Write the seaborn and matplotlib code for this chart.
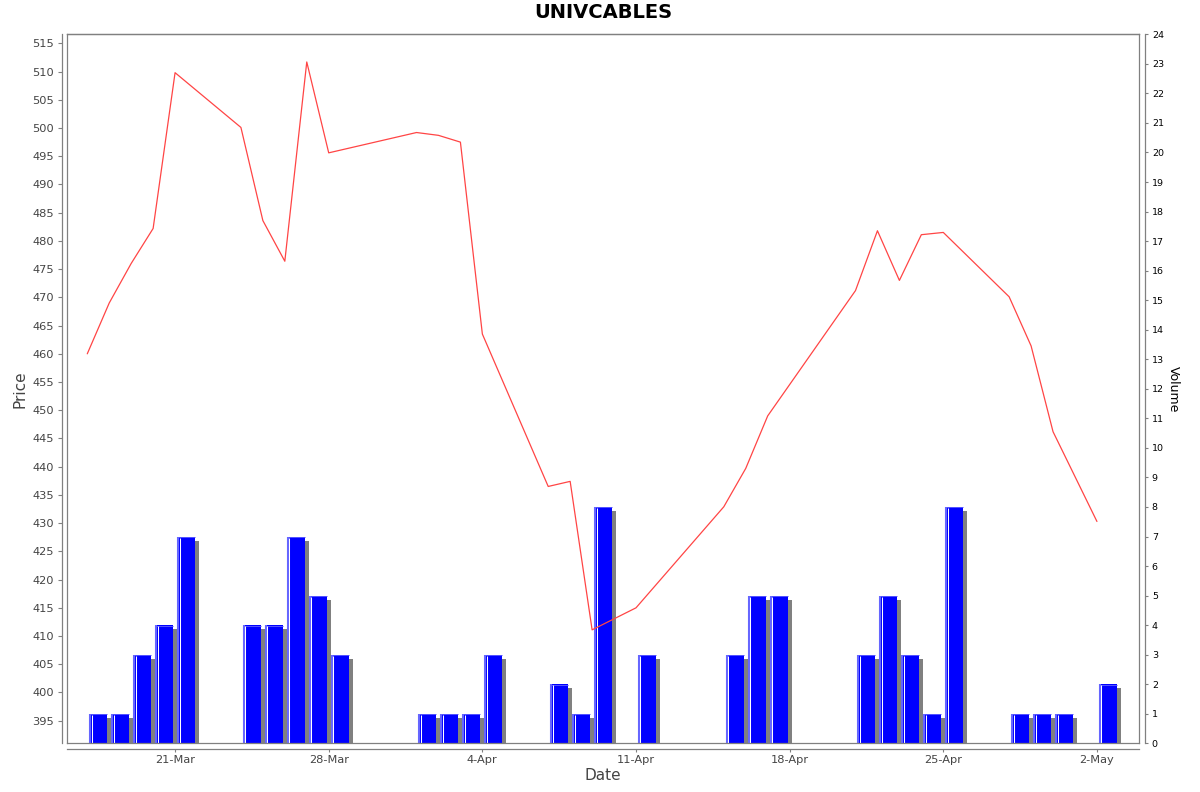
import numpy as np
import pandas as pd
import matplotlib
matplotlib.use('Agg')
import matplotlib.pyplot as plt
import matplotlib.dates as mdates
import seaborn as sns

# Chart data
title = 'UNIVCABLES'
dates = ['2025-03-17', '2025-03-18', '2025-03-19', '2025-03-20', '2025-03-21',
         '2025-03-24', '2025-03-25', '2025-03-26', '2025-03-27', '2025-03-28',
         '2025-04-01', '2025-04-02', '2025-04-03', '2025-04-04',
         '2025-04-07', '2025-04-08', '2025-04-09', '2025-04-11',
         '2025-04-15', '2025-04-16', '2025-04-17',
         '2025-04-21', '2025-04-22', '2025-04-23', '2025-04-24', '2025-04-25',
         '2025-04-28', '2025-04-29', '2025-04-30', '2025-05-02']
prices = [460.0, 469.0, 476.0, 482.2, 509.8,
          500.1, 483.6, 476.4, 511.7, 495.6,
          499.2, 498.7, 497.5, 463.5,
          436.5, 437.4, 411.1, 415.0,
          432.9, 439.7, 449.0,
          471.2, 481.8, 473.0, 481.1, 481.5,
          470.1, 461.4, 446.2, 430.3]
volumes = [1, 1, 3, 4, 7,
           4, 4, 7, 5, 3,
           1, 1, 1, 3,
           2, 1, 8, 3,
           3, 5, 5,
           3, 5, 3, 1, 8,
           1, 1, 1, 2]
price_ticks = list(range(395, 516, 5))
volume_ticks = list(range(0, 25))

df = pd.DataFrame({'date': pd.to_datetime(dates), 'price': prices, 'volume': volumes})
df['x'] = mdates.date2num(df['date'])

sns.set_style('white')
plt.rcParams['font.family'] = ['DejaVu Sans']

W, H = 1200, 792
fig = plt.figure(figsize=(W / 100, H / 100), dpi=100)
left, right, top, bottom = 67.3, 1139.3, 34.3, 743.3
pos = [left / W, 1 - bottom / H, (right - left) / W, (bottom - top) / H]
ax_vol = fig.add_axes(pos)
ax_price = fig.add_axes(pos, sharex=ax_vol)
ax_price.patch.set_visible(False)

# pixel sizes in data units, for the bar shadow and highlight
day_px = 1 / 21.95
vol_px = 24 / (bottom - top)
bar_w = 0.82
bar_left = df['x'] + 0.5 - bar_w / 2

# volume bars with a drop shadow
ax_vol.bar(df['x'] + 0.5 + 4 * day_px, df['volume'], bottom=-4 * vol_px,
           width=bar_w, color='#808080', linewidth=0)
ax_vol.bar(df['x'] + 0.5, df['volume'], width=bar_w, color='#0000ff', linewidth=0)
ax_vol.hlines(df['volume'] - 0.5 * vol_px, bar_left, bar_left + bar_w,
              color='#5555ff', linewidth=0.7)
ax_vol.vlines(bar_left + 1.0 * day_px, 0, df['volume'],
              color='#6666ff', linewidth=1.5)
ax_vol.vlines(bar_left + 2.5 * day_px, 0, df['volume'] - vol_px,
              color='white', linewidth=0.75)

# price line
sns.lineplot(x=df['x'], y=df['price'], ax=ax_price, color='#ff4545',
             linewidth=0.9, sort=False)

ax_vol.set_xlim(df['x'].iloc[0] - 0.91, df['x'].iloc[0] + 47.93)
ax_price.set_ylim(391.0, 516.6)
ax_vol.set_ylim(0, 24)

gray = '#808080'
ax_price.xaxis.set_major_locator(mdates.WeekdayLocator(byweekday=mdates.FR))
ax_price.xaxis.set_major_formatter(mdates.DateFormatter('%-d-%b'))
ax_price.set_yticks(price_ticks)
ax_vol.set_yticks(volume_ticks)
ax_vol.yaxis.tick_right()
ax_vol.tick_params(axis='x', bottom=False, labelbottom=False)
ax_vol.tick_params(axis='y', left=False, right=True, labelright=True, labelleft=False,
                   length=2.5, width=0.8, color=gray, labelsize=6.8,
                   labelcolor='black', pad=2.5)
ax_price.tick_params(axis='y', left=True, right=False, labelleft=True, labelright=False,
                     length=3, width=0.8, color=gray, labelsize=8.2,
                     labelcolor='#444444', pad=2.5)
ax_price.tick_params(axis='x', bottom=True, labelbottom=True, length=2.5, width=0.8,
                     color=gray, labelsize=8.2, labelcolor='#444444', pad=2)

for sp in list(ax_vol.spines.values()) + list(ax_price.spines.values()):
    sp.set_color(gray)
    sp.set_linewidth(0.9)
    sp.set_visible(True)
ax_vol.spines['right'].set_position(('outward', 4))
ax_price.spines['left'].set_position(('outward', 4))
ax_price.spines['bottom'].set_position(('outward', 4))

ax_price.set_ylabel('Price', fontsize=11, color='#444444', ha='center', va='center')
ax_price.yaxis.set_label_coords((20 - left) / (right - left), 0.5)
ax_price.set_xlabel('Date', fontsize=11, color='#444444', ha='center', va='center')
ax_price.xaxis.set_label_coords(0.5, (bottom - 776) / (bottom - top))
ax_vol.yaxis.set_label_position('right')
ax_vol.set_ylabel('Volume', fontsize=9, color='black', rotation=270,
                  ha='center', va='center')
ax_vol.yaxis.set_label_coords((1173 - left) / (right - left), 0.5)

fig.text((left + right) / 2 / W, 1 - 13 / H, title, ha='center', va='center',
         fontsize=14, fontweight='bold', color='black')

fig.savefig('out.png', dpi=100)
